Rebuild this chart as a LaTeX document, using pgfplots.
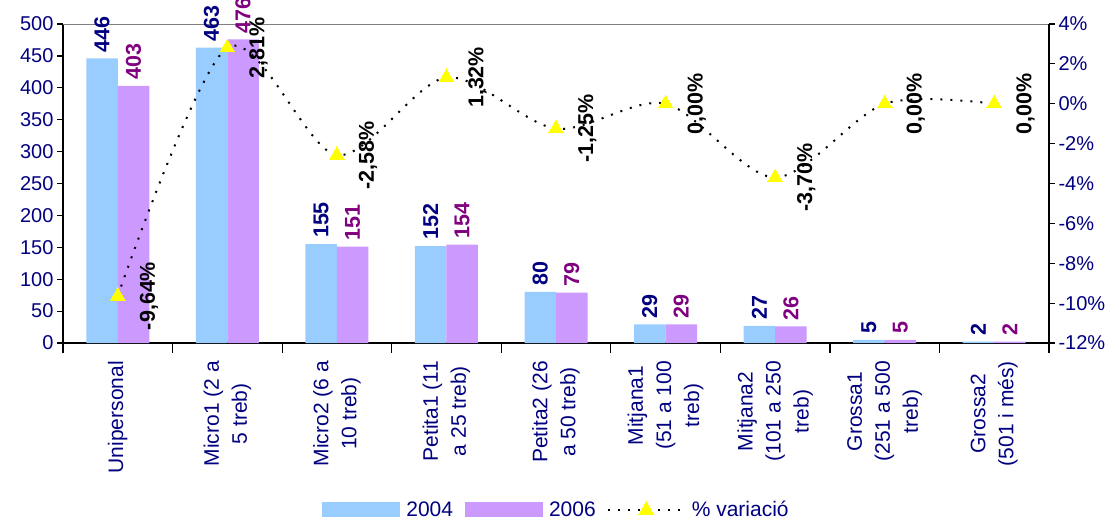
\documentclass[border=0pt]{standalone}
\usepackage{pgfplots}
\pgfplotsset{compat=1.18}
\usepackage{fontspec}
\setmainfont{Liberation Sans}
\definecolor{c04}{HTML}{99CCFF}
\definecolor{c06}{HTML}{CC99FF}
\definecolor{navy}{HTML}{000080}
\definecolor{plum}{HTML}{800080}
\definecolor{dkyellow}{HTML}{FFFF00}

\pgfplotsset{
  base/.style={
    scale only axis, width=986pt, height=319pt,
    xmin=-0.5, xmax=8.5,
    /pgf/number format/assume math mode=true,
    tick label style={font=\fontsize{20}{24}\selectfont, text=navy},
    axis line style={line width=1.2pt},
    tick style={line width=1.2pt, black},
    tick align=outside,
    major tick length=6pt,
  },
  varline/.style={black, line width=2pt, dash pattern=on 2pt off 8pt,
    mark=triangle*, mark size=8.5pt,
    mark options={solid, fill=dkyellow, draw=dkyellow, line width=0pt}},
  barlegend/.style={legend image code/.code={\fill[##1] (0pt,-7.5pt) rectangle (78pt,7.5pt);}},
  linelegend/.style={legend image code/.code={\draw[##1, sharp plot, mark repeat=2, mark phase=2]
    plot coordinates {(0pt,0pt) (38pt,0pt) (76pt,0pt)};}},
}

\begin{document}
\begin{tikzpicture}[font=\fontsize{20}{24}\selectfont]
\begin{axis}[
  base, name=main,
  ymin=0, ymax=500,
  ytick={0,50,...,500},
  ybar=0pt, bar width=31.5pt,
  axis x line*=bottom, axis y line*=left,
  xtick={0,...,8},
  major x tick style={draw=none},
  minor xtick={-0.5,0.5,...,8.5},
  minor tick length=10pt,
  xticklabels={
    {Unipersonal},
    {Micro1 (2 a\\5 treb)},
    {Micro2 (6 a\\10 treb)},
    {Petita1 (11\\a 25 treb)},
    {Petita2 (26\\a 50 treb)},
    {Mitjana1\\(51 a 100\\treb)},
    {Mitjana2\\(101 a 250\\treb)},
    {Grossa1\\(251 a 500\\treb)},
    {Grossa2\\(501 i més)}},
  xticklabel style={font=\fontsize{21}{28}\selectfont, rotate=90,
    anchor=east, align=center, inner sep=0pt},
  xticklabel shift=12pt,
  nodes near coords,
  nodes near coords style={rotate=90, anchor=west, inner sep=6pt,
    font=\fontsize{21.5}{24}\selectfont\bfseries},
  legend columns=3,
  legend style={at={(0.5,-0.5235)}, anchor=center, draw=none,
    font=\fontsize{21}{24}\selectfont, text=navy,
    /tikz/every odd column/.append style={column sep=5pt},
    /tikz/every even column/.append style={column sep=10pt},
    nodes={inner sep=1.5pt}},
]
\addplot[fill=c04, draw=none, nodes near coords style={text=navy}, barlegend]
  coordinates {(0,446) (1,463) (2,155) (3,152) (4,80) (5,29) (6,27) (7,5) (8,2)};
\addplot[fill=c06, draw=none, nodes near coords style={text=plum}, barlegend]
  coordinates {(0,403) (1,476) (2,151) (3,154) (4,79) (5,29) (6,26) (7,5) (8,2)};
\addlegendimage{varline, linelegend}
\legend{2004,2006,\% variació}
\draw[gray, line width=1.2pt] (rel axis cs:0,1) -- (rel axis cs:1,1);
\end{axis}

\begin{axis}[
  base,
  ymin=-12, ymax=4,
  ytick={-12,-10,...,4},
  yticklabel={\pgfmathprintnumber{\tick}\%},
  axis y line*=right, axis x line=none,
]
\addplot[varline, smooth,
  point meta=y,
  nodes near coords={\pgfmathprintnumber[fixed, fixed zerofill, precision=2, use comma]{\pgfplotspointmeta}\%},
  nodes near coords style={xshift=22pt, rotate=90, anchor=north, inner sep=0pt,
    text=black, font=\fontsize{21.5}{24}\selectfont\bfseries}]
  coordinates {(0,-9.64) (1,2.81) (2,-2.58) (3,1.32) (4,-1.25) (5,0) (6,-3.70) (7,0) (8,0)};
\end{axis}

\pgfresetboundingbox
\path[use as bounding box] ([shift={(-63pt,-178pt)}]main.south west)
  rectangle ([shift={(70pt,24pt)}]main.north east);
\end{tikzpicture}
\end{document}
